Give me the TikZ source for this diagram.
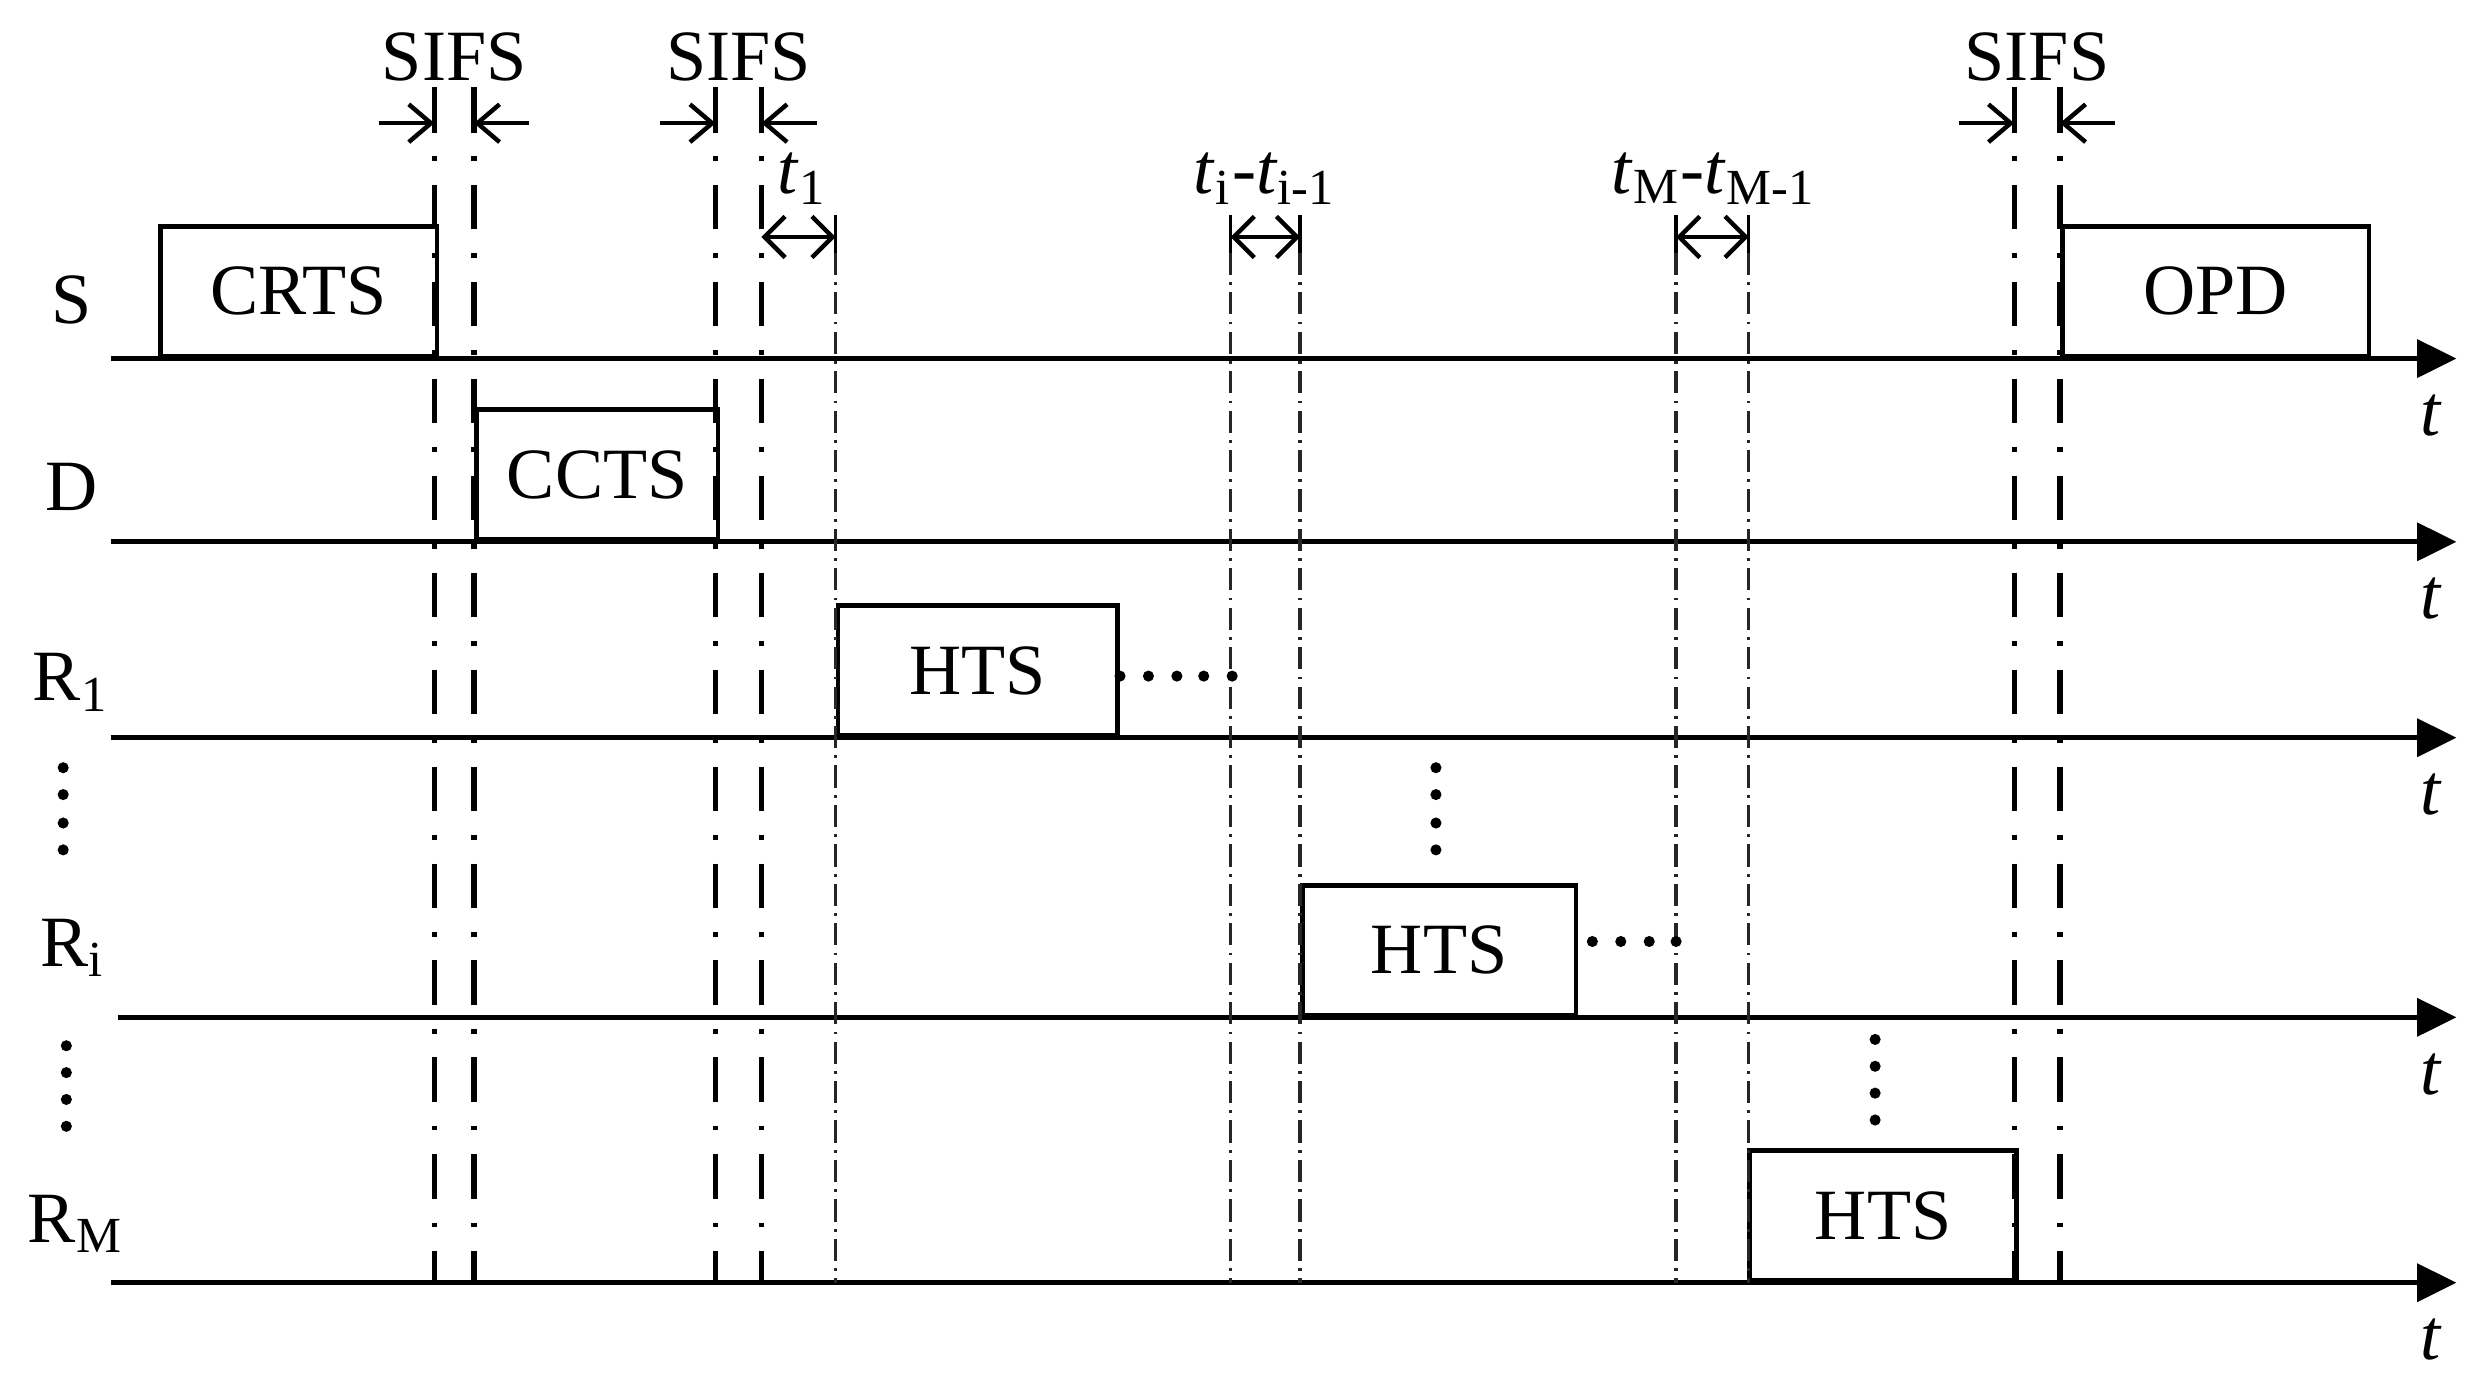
\documentclass[tikz,border=0pt]{standalone}
\usepackage{fontspec}
\setmainfont{Liberation Serif}
\usetikzlibrary{arrows.meta,positioning}

\begin{document}
\begin{tikzpicture}[x=0.01cm,y=-0.01cm,
    font=\fontsize{13}{15}\selectfont,
    axis/.style={line width=0.85pt,-{Triangle[length=7.1pt,width=6.8pt]}},
    frame/.style={draw,line width=0.85pt,minimum height=0.82cm,inner sep=0pt,anchor=south west},
    lbl/.style={inner sep=0pt},
    sifsline/.style={line width=0.95pt,dash pattern=on 0.85pt off 4.3pt on 8pt off 4.3pt},
    slotline/.style={line width=0.6pt,black!85,dash pattern=on 4pt off 1.3pt on 0.5pt off 1.3pt},
    tick/.style={line width=0.95pt},
    barb/.style={line width=0.8pt,-{Straight Barb[length=4pt,width=6.8pt]}},
    span/.style={line width=0.8pt,{Straight Barb[length=3.7pt,width=7.4pt]}-{Straight Barb[length=3.7pt,width=7.4pt]}}]
  \useasboundingbox (0,0) rectangle (1568,877);

  % station axes
  \foreach \y/\x in {227/70,343/70,467/70,644/75,812/70}{
    \draw[axis] (\x,\y) -- (1555,\y);
    \node[lbl] (t\y) at (1539,\y+36) {\textit{t}};
  }
  \node[lbl] (S)  at (45,190) {S};
  \node[lbl] (D)  at (45,308) {D};
  \node[lbl] (R1) at (45,432) {R\textsubscript{1}};
  \node[lbl] (Ri) at (46,600) {R\textsubscript{i}};
  \node[lbl] (RM) at (48,775) {R\textsubscript{M}};

  % frames
  \node[frame,minimum width=1.75cm] (crts) at (100,227)  {CRTS};
  \node[frame,minimum width=1.53cm] (ccts) at (300,343)  {CCTS};
  \node[frame,minimum width=1.77cm] (hts1) at (529,467)  {HTS};
  \node[frame,minimum width=1.73cm] (htsi) at (823,644)  {HTS};
  \node[frame,minimum width=1.69cm] (htsm) at (1106,812) {HTS};
  \node[frame,minimum width=1.94cm] (opd)  at (1304,227) {OPD};

  % SIFS guides
  \foreach \x in {275,300,453,482,1275,1304}{
    \draw[tick] (\x,55) -- (\x,84);
    \draw[sifsline] (\x,99) -- (\x,812);
  }
  \foreach \a/\b/\n in {275/300/1,453/482/2,1275/1304/3}{
    \draw[barb] (\a-35,78) -- (\a,78);
    \draw[barb] (\b+35,78) -- (\b,78);
    \node[lbl] (sifs\n) at ({(\a+\b)/2},36) {SIFS};
  }

  % slot guides
  \foreach \x in {529,779,823,1061,1107}{
    \draw[line width=0.6pt] (\x,136) -- (\x,160);
    \draw[slotline] (\x,160) -- (\x,812);
  }
  \draw[span] (482,150) -- (529,150);
  \draw[span] (779,150) -- (823,150);
  \draw[span] (1061,150) -- (1107,150);
  \node[lbl] (t1)  at (508,113)  {\textit{t}\textsubscript{1}};
  \node[lbl] (tii) at (801,113)  {\textit{t}\textsubscript{i}-\textit{t}\textsubscript{i-1}};
  \node[lbl] (tmm) at (1085,113) {\textit{t}\textsubscript{M}-\textit{t}\textsubscript{M-1}};

  % dots
  \foreach \x in {709,727,745,762,780} \fill (\x,428) circle (1pt);
  \foreach \x in {1008,1026,1044,1061} \fill (\x,596) circle (1pt);
  \foreach \y in {486,503,521,538}{
    \fill (40,\y) circle (1pt);
    \fill (909,\y) circle (1pt);
  }
  \foreach \y in {662,679,696,713}{
    \fill (42,\y) circle (1pt);
    \fill (1187,\y-4) circle (1pt);
  }
\end{tikzpicture}
\end{document}
